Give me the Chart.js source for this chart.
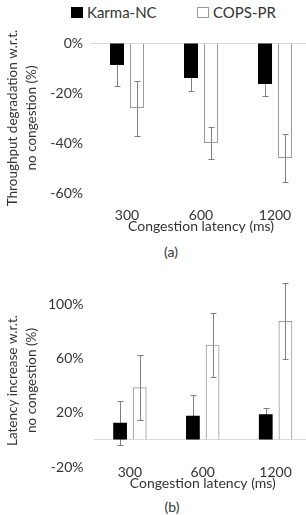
<!DOCTYPE html>
<html>
<head>
<meta charset="utf-8">
<script src="https://cdn.jsdelivr.net/npm/chart.js@4.4.1/dist/chart.umd.min.js"></script>
<style>
  body { margin: 0; width: 306px; height: 515px; overflow: hidden; background: #fff; font-family: Lato, sans-serif; color: #333; position: relative; }
  .box { position: absolute; left: 0; width: 314px; }
  .legend { position: absolute; top: 3px; font-size: 15px; line-height: 18px; }
  .legend span.sw { position: absolute; top: 4px; width: 12px; height: 11px; box-sizing: border-box; }
  .cap { position: absolute; font-size: 14px; width: 40px; text-align: center; }
</style>
</head>
<body>
<div class="legend" style="left:71px">
  <span class="sw" style="left:0;background:#000"></span>
  <span style="position:absolute;left:16px;white-space:nowrap">Karma-NC</span>
</div>
<div class="legend" style="left:197px">
  <span class="sw" style="left:0;background:#fff;border:1px solid #999"></span>
  <span style="position:absolute;left:16px;white-space:nowrap">COPS-PR</span>
</div>

<div class="box" style="top:0;height:235px"><canvas id="thr-chart"></canvas></div>
<div class="cap" style="left:151px;top:243px">(a)</div>

<div class="box" style="top:270px;height:222px"><canvas id="lat-chart"></canvas></div>
<div class="cap" style="left:152px;top:498px">(b)</div>

<script>
// values
const latencies = ['300', '600', '1200'];
const seriesNames = ['Karma-NC', 'COPS-PR'];

const thrKarma = [-8.8, -14, -16.4];
const thrKarmaErr = [8.4, 5.2, 4.8];
const thrCops = [-26, -40, -46];
const thrCopsErr = [11, 6.3, 9.6];
const thrTicks = [0, -20, -40, -60];

const latKarma = [12.8, 17.9, 19.1];
const latKarmaErr = [16.3, 15.2, 4.2];
const latCops = [39, 70.4, 88];
const latCopsErr = [24, 23.5, 28];
const latTicks = [-20, 0, 20, 60, 100];

const FONT = 'Lato, sans-serif';

// error bars drawn behind the bars, so the black fill hides the inner half
const errorBars = {
    id: 'errorBars',
    beforeDatasetsDraw(chart, args, opts) {
        const ctx = chart.ctx;
        const y = chart.scales.y;
        ctx.save();
        ctx.strokeStyle = '#7f7f7f';
        ctx.lineWidth = 1;
        chart.data.datasets.forEach((ds, di) => {
            const meta = chart.getDatasetMeta(di);
            meta.data.forEach((bar, i) => {
                const e = opts.errors[di][i];
                const x = Math.round(bar.x) + 0.5;
                const y1 = Math.round(y.getPixelForValue(ds.data[i] + e)) + 0.5;
                const y2 = Math.round(y.getPixelForValue(ds.data[i] - e)) + 0.5;
                ctx.beginPath();
                ctx.moveTo(x, y1); ctx.lineTo(x, y2);
                ctx.moveTo(x - 3, y1); ctx.lineTo(x + 3, y1);
                ctx.moveTo(x - 3, y2); ctx.lineTo(x + 3, y2);
                ctx.stroke();
            });
        });
        ctx.restore();
    }
};

function makeChart(id, karma, cops, errs, ticks, yMin, yMax, opt) {
    return new Chart(document.getElementById(id), {
        type: 'bar',
        data: {
            labels: latencies,
            datasets: [
                { label: seriesNames[0], data: karma, backgroundColor: '#000', borderWidth: 0 },
                { label: seriesNames[1], data: cops, backgroundColor: 'transparent', borderColor: '#999', borderWidth: 1 }
            ]
        },
        plugins: [errorBars],
        options: {
            responsive: true,
            maintainAspectRatio: false,
            animation: false,
            layout: { padding: { top: opt.padTop, right: 2, left: 0, bottom: 0 } },
            datasets: { bar: { categoryPercentage: 0.54, barPercentage: 0.7 } },
            plugins: {
                legend: { display: false },
                tooltip: { enabled: false },
                errorBars: { errors: errs }
            },
            scales: {
                x: {
                    grid: { display: false },
                    border: { display: false },
                    ticks: { color: '#333', font: { family: FONT, size: 14 }, padding: opt.xPad },
                    title: { display: true, text: 'Congestion latency (ms)', color: '#333', font: { family: FONT, size: 14 }, padding: 0 },
                    afterFit: s => { s.height = opt.xHeight; }
                },
                y: {
                    min: yMin,
                    max: yMax,
                    afterBuildTicks: s => { s.ticks = ticks.map(v => ({ value: v })); },
                    grid: {
                        drawTicks: false,
                        color: c => (c.tick && c.tick.value === 0) ? '#d9d9d9' : 'transparent'
                    },
                    border: { display: false },
                    ticks: {
                        color: '#333',
                        font: { family: FONT, size: 14 },
                        padding: opt.yPad,
                        callback: v => (opt.hideZero && v === 0) ? '' : v + '%'
                    },
                    title: {
                        display: true,
                        text: opt.yTitle,
                        color: '#333',
                        font: { family: FONT, size: 13.5, lineHeight: 1.4 },
                        padding: { top: 3, bottom: 0 }
                    },
                    afterFit: s => { s.width = opt.yWidth; }
                }
            }
        }
    });
}

makeChart('thr-chart', thrKarma, thrCops, [thrKarmaErr, thrCopsErr], thrTicks, -60, 0, {
    padTop: 43, xPad: 5.6, xHeight: 42, yPad: 7, yWidth: 90, hideZero: false,
    yTitle: ['Throughput degradation w.r.t.', 'no congestion (%)']
});

makeChart('lat-chart', latKarma, latCops, [latKarmaErr, latCopsErr], latTicks, -20, 108, {
    padTop: 24, xPad: -11.4, xHeight: 25, yPad: 10, yWidth: 93.5, hideZero: true,
    yTitle: ['Latency increase w.r.t.', 'no congestion (%)']
});
</script>
</body>
</html>
